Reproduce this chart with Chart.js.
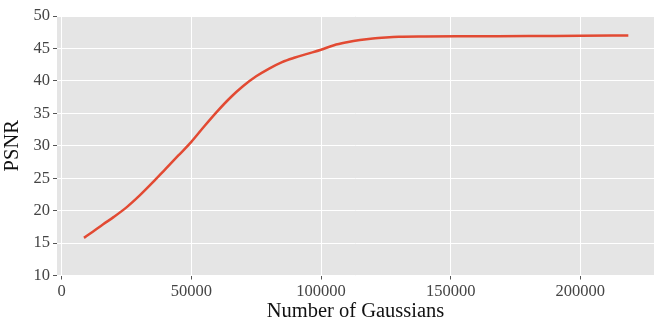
<!DOCTYPE html>
<html>
<head>
<meta charset="utf-8">
<script src="https://cdn.jsdelivr.net/npm/chart.js@4/dist/chart.umd.min.js"></script>
<style>
    html, body { margin: 0; padding: 0; background: #fff; }
    #wrap { width: 664px; height: 332px; position: relative; }
</style>
</head>
<body>
<div id="wrap"><canvas id="chartPsnr"></canvas></div>
<script>
const gaussians = [8600, 12000, 16000, 20000, 25000, 30000, 35000, 40000, 45000, 50000,
    55000, 60000, 65000, 70000, 75000, 80000, 85000, 90000, 95000, 100000,
    105000, 110000, 115000, 120000, 125000, 130000, 140000, 160000, 180000, 200000, 218500];
const psnr = [15.8, 16.75, 17.9, 19.0, 20.5, 22.3, 24.3, 26.4, 28.5, 30.6,
    33.0, 35.3, 37.4, 39.2, 40.7, 41.9, 42.9, 43.6, 44.2, 44.8,
    45.5, 45.95, 46.3, 46.55, 46.7, 46.8, 46.85, 46.88, 46.92, 46.95, 47.0];
const xTicks = [0, 50000, 100000, 150000, 200000];

const panelBackground = {
    id: "panelBackground",
    beforeDraw(chart) {
        const { ctx, chartArea } = chart;
        ctx.save();
        ctx.fillStyle = "#e5e5e5";
        ctx.fillRect(chartArea.left, chartArea.top, chartArea.right - chartArea.left, chartArea.bottom - chartArea.top);
        ctx.restore();
    }
};

const fontFamily = "'Liberation Serif', 'DejaVu Serif', serif";

new Chart(document.getElementById("chartPsnr"), {
    type: "scatter",
    data: {
        datasets: [{
            data: gaussians.map((g, i) => ({ x: g, y: psnr[i] })),
            showLine: true,
            borderColor: "#E24A33",
            borderWidth: 2.5,
            pointRadius: 0,
            cubicInterpolationMode: "monotone",
            fill: false
        }]
    },
    options: {
        responsive: true,
        maintainAspectRatio: false,
        animation: false,
        layout: {
            padding: { left: 0, right: 10, top: 16, bottom: 8 }
        },
        plugins: {
            legend: { display: false },
            tooltip: { enabled: false }
        },
        scales: {
            x: {
                type: "linear",
                min: -1800,
                max: 228400,
                afterBuildTicks: (scale) => {
                    scale.ticks = xTicks.map(v => ({ value: v }));
                },
                afterFit: (scale) => { scale.height = 48.5; },
                border: { display: false },
                grid: {
                    color: "#ffffff",
                    lineWidth: 1,
                    tickColor: "#555555",
                    tickLength: 4
                },
                ticks: {
                    color: "#444444",
                    padding: 2,
                    maxRotation: 0,
                    font: { family: fontFamily, size: 16.5 },
                    callback: (v) => String(v)
                },
                title: {
                    display: true,
                    text: "Number of Gaussians",
                    color: "#111111",
                    padding: { top: 0, bottom: 0 },
                    font: { family: fontFamily, size: 20.5 }
                }
            },
            y: {
                min: 10,
                max: 50,
                afterFit: (scale) => { scale.width = 57; },
                border: { display: false },
                grid: {
                    color: "#ffffff",
                    lineWidth: 1,
                    tickColor: "#555555",
                    tickLength: 4
                },
                ticks: {
                    stepSize: 5,
                    color: "#444444",
                    padding: 3,
                    font: { family: fontFamily, size: 16.5 }
                },
                title: {
                    display: true,
                    text: "PSNR",
                    color: "#111111",
                    padding: { top: 0, bottom: 2 },
                    font: { family: fontFamily, size: 20.5 }
                }
            }
        }
    },
    plugins: [panelBackground]
});
</script>
</body>
</html>
